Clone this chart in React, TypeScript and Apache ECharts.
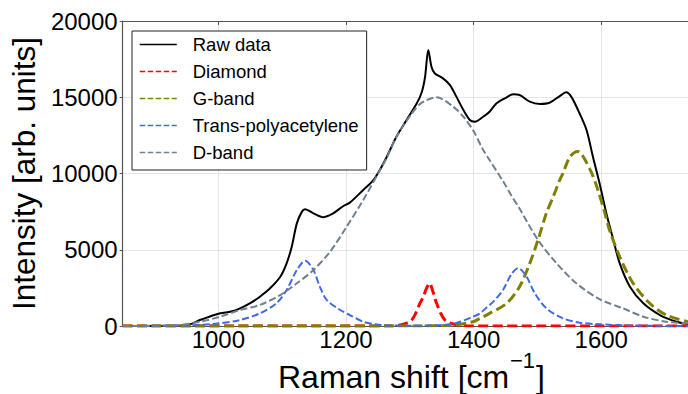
import React, { useEffect, useRef } from "react";
import * as echarts from "echarts";

const FONT = "'Liberation Sans', Arial, Helvetica, sans-serif";

const X_TICKS = [1000, 1200, 1400, 1600];
const Y_MIN = 0;
const Y_MAX = 20000;
const Y_STEP = 5000;
const X_MIN = 850;
const X_MAX = 1736;

const SERIES_NAMES = ["Raw data", "Diamond", "G-band", "Trans-polyacetylene", "D-band"];

const rawX = [850, 900, 940, 955, 971, 985, 1003, 1020, 1034, 1050, 1065, 1081, 1097, 1107, 1115, 1123, 1131, 1136, 1149, 1164, 1180, 1196, 1206, 1227, 1243, 1253, 1264, 1279, 1295, 1311, 1319, 1324, 1329, 1334, 1339, 1352, 1363, 1373, 1384, 1394, 1402, 1415, 1425, 1436, 1450, 1462, 1472, 1488, 1504, 1519, 1535, 1545, 1553, 1566, 1577, 1587, 1598, 1608, 1619, 1629, 1645, 1666, 1692, 1718, 1736];
const rawY = [0, 0, 20, 100, 390, 600, 830, 950, 1160, 1500, 1920, 2470, 3230, 4110, 5200, 6730, 7500, 7650, 7390, 7130, 7390, 7870, 8090, 8920, 9570, 10230, 11100, 12410, 13510, 14600, 15360, 16350, 18100, 17000, 16570, 16240, 15800, 15040, 14160, 13510, 13400, 13720, 14050, 14600, 14950, 15190, 15150, 14710, 14560, 14640, 15080, 15320, 15040, 13950, 12850, 11100, 9250, 7390, 5640, 4110, 2580, 1490, 720, 280, 130];

const diamondX = [850, 1270, 1285, 1303, 1316, 1321, 1326, 1331, 1336, 1342, 1355, 1375, 1400, 1736];
const diamondY = [0, 0, 70, 390, 1490, 1900, 2450, 2800, 2300, 1490, 390, 60, 0, 0];

const gbandX = [850, 1300, 1368, 1399, 1410, 1425, 1452, 1472, 1488, 1501, 1514, 1525, 1535, 1540, 1551, 1563, 1582, 1595, 1605, 1613, 1629, 1650, 1676, 1702, 1736];
const gbandY = [0, 0, 60, 280, 500, 830, 1490, 2580, 4110, 5640, 7390, 8500, 9570, 10010, 11100, 11450, 10300, 8900, 7500, 6300, 4540, 2800, 1490, 720, 280];

const transX = [850, 950, 992, 1034, 1065, 1091, 1107, 1123, 1136, 1149, 1159, 1170, 1191, 1206, 1227, 1253, 1300, 1350, 1373, 1399, 1410, 1420, 1431, 1446, 1460, 1470, 1483, 1496, 1514, 1540, 1566, 1598, 1650, 1736];
const transY = [0, 30, 130, 390, 830, 1490, 2360, 3670, 4280, 3670, 2580, 1700, 1050, 720, 280, 70, 20, 60, 200, 610, 830, 1200, 1600, 2360, 3450, 3800, 3230, 2140, 1160, 500, 220, 110, 30, 0];

const dbandX = [850, 900, 940, 971, 1003, 1034, 1065, 1097, 1123, 1149, 1175, 1201, 1227, 1253, 1264, 1279, 1295, 1316, 1342, 1368, 1384, 1399, 1415, 1425, 1446, 1460, 1472, 1501, 1530, 1561, 1598, 1634, 1666, 1702, 1736];
const dbandY = [0, 20, 70, 280, 610, 1050, 1380, 2030, 2800, 3670, 4870, 6510, 8260, 10200, 11050, 12400, 13450, 14550, 15000, 14380, 13720, 12850, 11540, 10880, 9500, 8500, 7700, 5640, 4110, 2800, 1750, 1160, 610, 280, 180];

const COLORS = ["#000000", "#ff0000", "#808000", "#4169e1", "#708090"];
const WIDTHS = [2, 3, 3, 2, 2];

function pairs(xs: number[], ys: number[]) {
  return xs.map((x, i) => [x, ys[i]]);
}

const plain = (v: number) => String(v);

export default function App() {
  const ref = useRef<HTMLDivElement>(null);

  useEffect(() => {
    if (!ref.current) return;
    const chart = echarts.init(ref.current, undefined, { renderer: "svg" });
    const datasets = [
      pairs(rawX, rawY),
      pairs(diamondX, diamondY),
      pairs(gbandX, gbandY),
      pairs(transX, transY),
      pairs(dbandX, dbandY),
    ];
    const dashes: (number[] | "solid")[] = ["solid", [10, 4.5], [10, 4.5], [7, 3], [7, 3]];
    const legendDash: (number[] | "solid")[] = ["solid", [5.5, 2.5], [5.5, 2.5], [5.5, 2.5], [5.5, 2.5]];

    const option: any = {
      animation: false,
      backgroundColor: "#ffffff",
      textStyle: { fontFamily: FONT },
      grid: { left: 122, right: 0, top: 21, bottom: 68, containLabel: false },
      legend: {
        show: true,
        orient: "vertical",
        left: 132,
        top: 31,
        padding: [4, 8, 8, 7],
        itemGap: 8,
        itemWidth: 37,
        itemHeight: 14,
        backgroundColor: "#ffffff",
        borderColor: "#222222",
        borderWidth: 1,
        borderRadius: 0,
        textStyle: { fontSize: 18.5, color: "#000", fontFamily: FONT, padding: [0, 0, 0, 11] },
        data: SERIES_NAMES.map((n, i) => ({
          name: n,
          itemStyle: { opacity: 0, color: "transparent", borderColor: "transparent", borderWidth: 0 },
          lineStyle: { width: 1.5, type: legendDash[i], color: COLORS[i], opacity: 1 },
        })),
      },
      xAxis: [
        {
          type: "value",
          position: "bottom",
          min: X_MIN,
          max: X_MAX,
          axisLine: { show: true, onZero: false, lineStyle: { color: "#555555", width: 1.2 } },
          axisTick: { show: false, customValues: X_TICKS },
          axisLabel: { customValues: X_TICKS, fontSize: 24, color: "#000", margin: 1, fontFamily: FONT, formatter: plain },
          splitLine: { show: true, lineStyle: { color: "#e4e4e4", width: 1 } },
        },
        {
          type: "value",
          position: "top",
          min: X_MIN,
          max: X_MAX,
          axisLine: { show: true, onZero: false, lineStyle: { color: "#555555", width: 1.2 } },
          axisTick: { show: true, inside: true, length: 4, customValues: X_TICKS, lineStyle: { color: "#555555" } },
          axisLabel: { show: false, customValues: X_TICKS },
          splitLine: { show: false },
        },
      ],
      yAxis: {
        type: "value",
        min: Y_MIN,
        max: Y_MAX,
        interval: Y_STEP,
        name: "Intensity [arb. units]",
        nameLocation: "middle",
        nameGap: 80,
        nameTextStyle: { fontSize: 31.5, color: "#000", fontFamily: FONT },
        axisLine: { show: true, lineStyle: { color: "#555555", width: 1.2 } },
        axisTick: { show: true, length: 3, lineStyle: { color: "#555555" } },
        axisLabel: { fontSize: 24, color: "#000", margin: 5, fontFamily: FONT, formatter: plain },
        splitLine: { show: true, lineStyle: { color: "#e4e4e4", width: 1 } },
      },
      graphic: [
        {
          type: "text",
          x: 278,
          y: 377,
          silent: true,
          style: { text: "Raman shift [cm", fontSize: 32, fontFamily: FONT, fill: "#000", align: "left", verticalAlign: "middle" },
        },
        {
          type: "text",
          x: 510,
          y: 360,
          silent: true,
          style: { text: "\u22121", fontSize: 22, fontFamily: FONT, fill: "#000", align: "left", verticalAlign: "middle" },
        },
        {
          type: "text",
          x: 536,
          y: 377,
          silent: true,
          style: { text: "]", fontSize: 32, fontFamily: FONT, fill: "#000", align: "left", verticalAlign: "middle" },
        },
      ],
      series: SERIES_NAMES.map((n, i) => ({
        name: n,
        type: "line",
        xAxisIndex: 0,
        data: datasets[i],
        symbol: "none",
        showSymbol: false,
        smooth: 0.3,
        clip: true,
        color: COLORS[i],
        lineStyle: { color: COLORS[i], width: WIDTHS[i], type: dashes[i] },
        z: 2 + i,
      })),
    };

    chart.setOption(option);
    return () => {
      chart.dispose();
    };
  }, []);

  return (
    <div
      ref={ref}
      style={{ position: "fixed", left: 0, top: 0, width: 688, height: 394, background: "#fff" }}
    />
  );
}
